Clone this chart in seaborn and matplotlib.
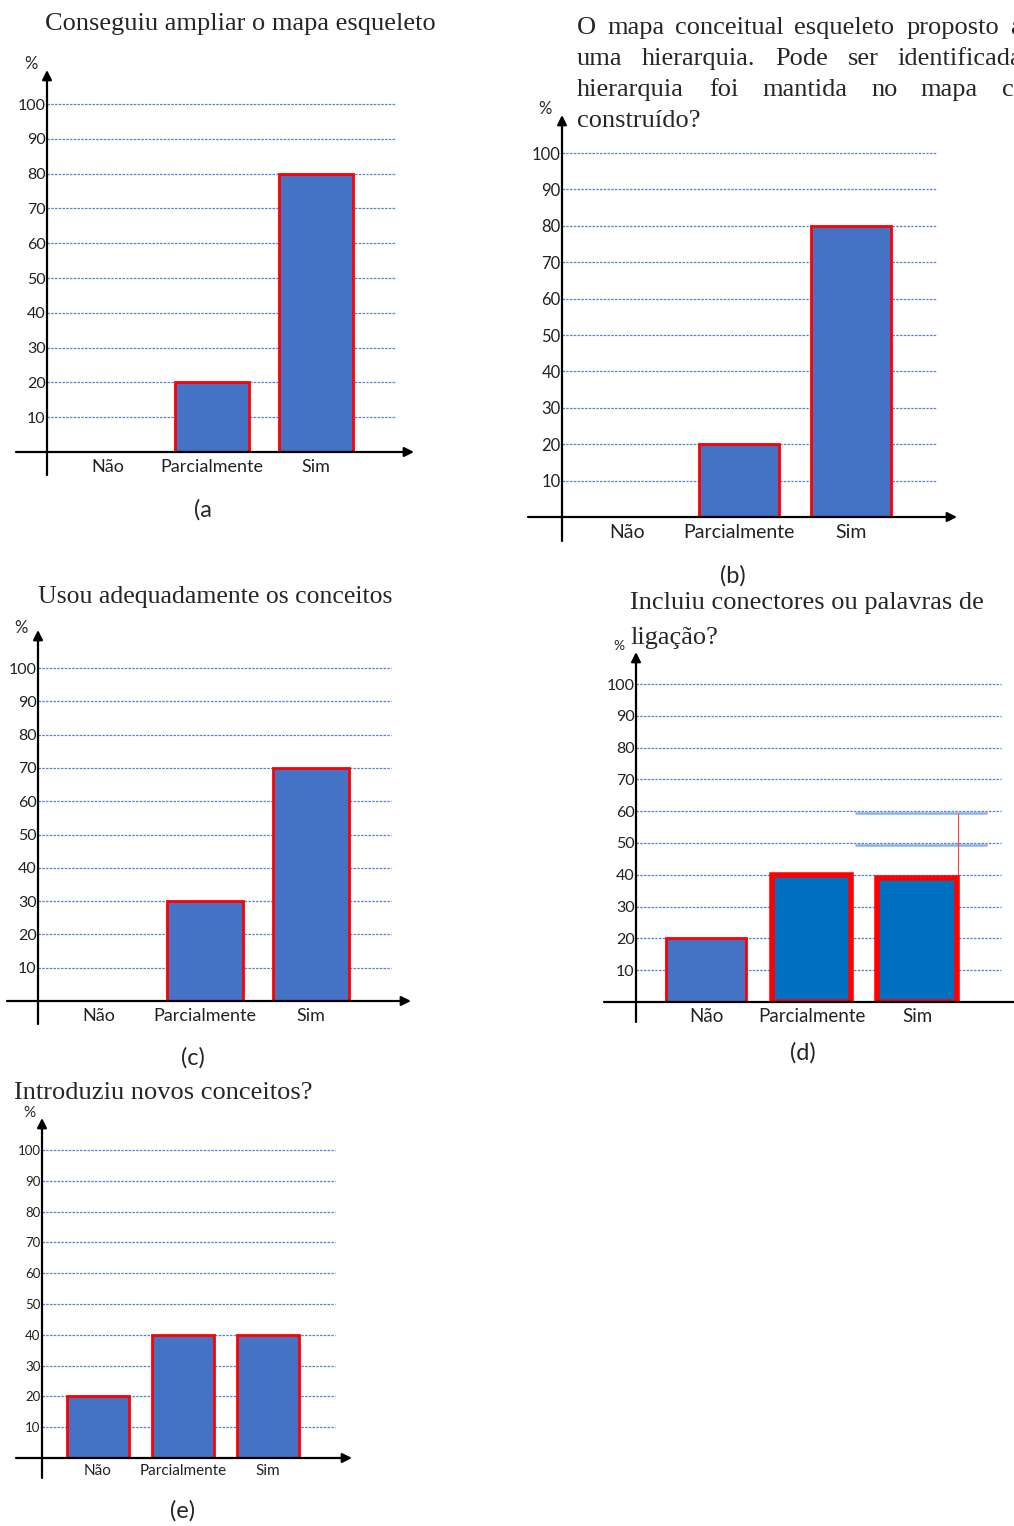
import matplotlib.pyplot as plt
import seaborn as sns

# categorias e percentagens
categorias = ["Não", "Parcialmente", "Sim"]
valores_a = [0, 20, 80]
valores_b = [0, 20, 80]
valores_c = [0, 30, 70]
valores_d = [20, 40, 39]
valores_e = [20, 40, 40]
marcas_y = [10, 20, 30, 40, 50, 60, 70, 80, 90, 100]

# traços soltos que aparecem no painel (d)
traços_d = [59.5, 49.5]

sns.set_style("white")
plt.rcParams["font.family"] = ["Lato", "DejaVu Sans"]

W, H = 1014, 1526
fig = plt.figure(figsize=(W / 100, H / 100), dpi=100)

AZUL = "#4472C4"
AZUL_ESC = "#0070C0"
GRADE = "#5583d3"
SERIF = ["Liberation Serif", "DejaVu Serif"]


def painel(vals, yx, xy, y100, ytop, xleft, xright, ybottom, grid_end, c0, sp,
           largura, fs_y, fs_x, pad_x, cores=None, bordas=None):
    ppu = (xy - y100) / 100
    ax = fig.add_axes([yx / W, 1 - xy / H, (xright - yx) / W, (xy - ytop) / H])
    cores = cores or [AZUL] * 3
    bordas = bordas or [2.0] * 3
    sns.barplot(x=categorias, y=vals, hue=categorias, palette=cores, width=largura,
                legend=False, ax=ax, edgecolor="#FF0000", saturation=1, zorder=3)
    for p, v, lw in zip(ax.patches, vals, bordas):
        p.set_linewidth(lw if v > 0 else 0)

    x0 = (yx - c0) / sp
    x1 = (xright - c0) / sp
    ytop_d = (xy - ytop) / ppu
    ax.set_xlim(x0, x1)
    ax.set_ylim(0, ytop_d)
    sns.despine(ax=ax, left=True, bottom=True)

    ax.hlines(marcas_y, x0, (grid_end - c0) / sp, colors=GRADE,
              linestyles=(0, (2, 1)), lw=0.9, zorder=1)

    seta = dict(arrowstyle="-|>", color="black", lw=1.6, shrinkA=0, shrinkB=0,
                mutation_scale=14)
    ax.annotate("", xy=(x1, 0), xytext=((xleft - c0) / sp, 0), arrowprops=seta,
                annotation_clip=False, zorder=5)
    ax.annotate("", xy=(x0, ytop_d), xytext=(x0, -(ybottom - xy) / ppu),
                arrowprops=seta, annotation_clip=False, zorder=5)

    ax.set_yticks(marcas_y)
    ax.set_yticklabels([str(t) for t in marcas_y], fontsize=fs_y, color="#222222")
    ax.set_xticks(range(len(categorias)))
    ax.set_xticklabels(categorias, fontsize=fs_x, color="#222222")
    ax.tick_params(axis="y", length=0, pad=1)
    ax.tick_params(axis="x", length=0, pad=pad_x)
    ax.set_xlabel("")
    ax.set_ylabel("")
    ax.patch.set_alpha(0)
    return ax, c0, sp


def txt(x, y, s, **kw):
    fig.text(x / W, 1 - y / H, s, va="center", **kw)


# (a)
painel(valores_a, 47, 452, 104, 70, 16, 414, 475, 395, 108, 104, 0.71, 11.5, 13, 5)
txt(240, 24, "Conseguiu ampliar o mapa esqueleto", ha="center", fontsize=19, family=SERIF)
txt(31, 64, "%", ha="center", fontsize=12)
txt(203, 510, "(a", ha="center", fontsize=17)

# (b) - texto justificado, cortado na margem direita como no original
painel(valores_b, 562, 517, 153, 115, 528, 957, 541, 937, 627, 112, 0.71, 12, 14, 5)
linhas_b = [
    [("O", 577), ("mapa", 607), ("conceitual", 675), ("esqueleto", 794),
     ("proposto", 907), ("apresenta", 1010)],
    [("uma", 577), ("hierarquia.", 642), ("Pode", 775), ("ser", 848),
     ("identificada", 897)],
    [("hierarquia", 577), ("foi", 709), ("mantida", 762), ("no", 871),
     ("mapa", 920), ("conceitual", 1002)],
    [("construído?", 577)],
]
for i, linha in enumerate(linhas_b):
    for palavra, x in linha:
        txt(x, 28 + 31 * i, palavra, ha="left", fontsize=19, family=SERIF)
txt(545, 109, "%", ha="center", fontsize=12)
txt(733, 576, "(b)", ha="center", fontsize=17)

# (c)
painel(valores_c, 38, 1001, 668, 630, 7, 411, 1024, 391, 99, 106, 0.72, 11.5, 13, 5)
txt(215, 597, "Usou adequadamente os conceitos", ha="center", fontsize=18.5, family=SERIF)
txt(21, 628, "%", ha="center", fontsize=12)
txt(193, 1058, "(c)", ha="center", fontsize=17)

# (d)
ax_d, c0_d, sp_d = painel(valores_d, 636, 1002, 684, 652, 604, 1030, 1022, 1001, 706, 105.5,
                          0.75, 11.5, 13.5, 4,
                          cores=[AZUL, AZUL_ESC, AZUL_ESC], bordas=[2.0, 4.0, 4.0])
ax_d.hlines(traços_d, (855 - c0_d) / sp_d, (987 - c0_d) / sp_d, colors="#8fb0e3",
            lw=1.8, zorder=2)
ax_d.vlines((958 - c0_d) / sp_d, valores_d[2], traços_d[0], colors="#ff4040", lw=0.8, zorder=2)
txt(630, 603, "Incluiu conectores ou palavras de", ha="left", fontsize=19, family=SERIF)
txt(630, 638, "ligação?", ha="left", fontsize=19, family=SERIF)
txt(619, 646, "%", ha="center", fontsize=10)
txt(803, 1053, "(d)", ha="center", fontsize=17)

# (e)
painel(valores_e, 42, 1458, 1150, 1118, 16, 352, 1478, 335, 98, 85, 0.74, 9.5, 11, 4)
txt(14, 1093, "Introduziu novos conceitos?", ha="left", fontsize=19, family=SERIF)
txt(29, 1113, "%", ha="center", fontsize=11)
txt(183, 1511, "(e)", ha="center", fontsize=17)

fig.savefig("out.png", dpi=100, facecolor="white")
